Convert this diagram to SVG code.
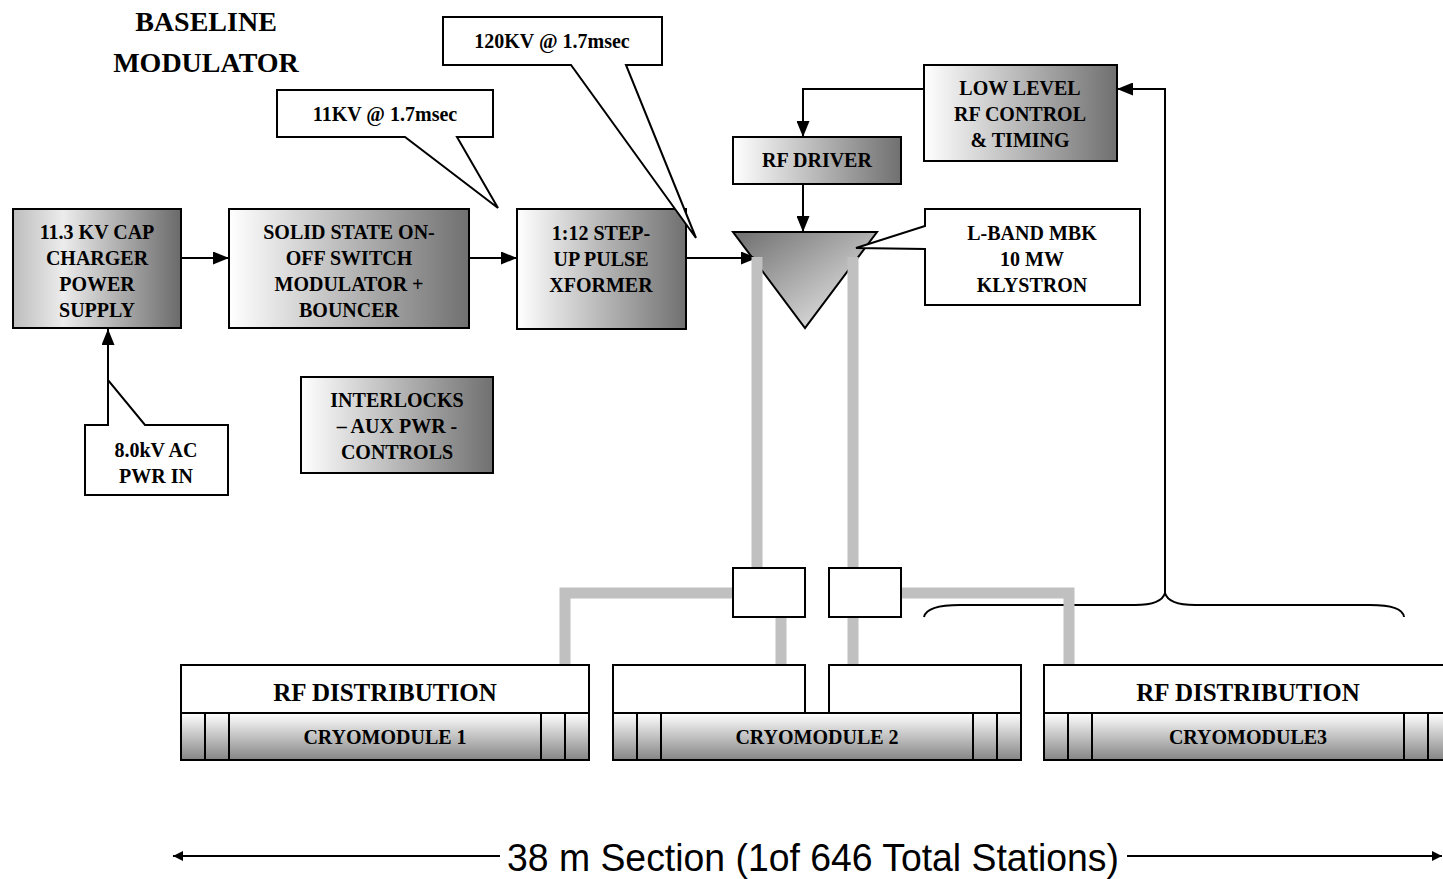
<svg xmlns="http://www.w3.org/2000/svg" width="1443" height="879" viewBox="0 0 1443 879">
<style>
.box{stroke:#000;stroke-width:2}
.t{font-family:"Liberation Serif","Times New Roman",serif;font-weight:bold;font-size:20px;fill:#000;text-anchor:middle}
.big{font-size:25px}
.title{font-size:28px}
.ln{fill:none;stroke:#000;stroke-width:2}
.pipe{fill:none;stroke:#c0c0c0;stroke-width:11}
.cap{font-family:"Liberation Sans",Arial,sans-serif;font-size:38px;fill:#000;text-anchor:middle}
</style>
<defs>
<linearGradient id="gH" x1="0" y1="0" x2="1" y2="0"><stop offset="0" stop-color="#ffffff"/><stop offset="1" stop-color="#707070"/></linearGradient>
<linearGradient id="gH1" x1="0" y1="0" x2="1" y2="0"><stop offset="0" stop-color="#bdbdbd"/><stop offset="0.3" stop-color="#ececec"/><stop offset="1" stop-color="#6a6a6a"/></linearGradient>
<linearGradient id="gV" x1="0" y1="0" x2="0" y2="1"><stop offset="0" stop-color="#ffffff"/><stop offset="1" stop-color="#858585"/></linearGradient>
<linearGradient id="gT" x1="0" y1="0" x2="1" y2="1"><stop offset="0" stop-color="#6e6e6e"/><stop offset="1" stop-color="#f4f4f4"/></linearGradient>
<marker id="ah" viewBox="0 0 16 13" refX="16" refY="6.5" markerWidth="16" markerHeight="13" markerUnits="userSpaceOnUse" orient="auto"><path d="M0,0 L16,6.5 L0,13 z" fill="#000"/></marker>
<marker id="ahs" viewBox="0 0 10 10" refX="10" refY="5" markerWidth="10" markerHeight="10" markerUnits="userSpaceOnUse" orient="auto"><path d="M0,0 L10,5 L0,10 z" fill="#000"/></marker>
</defs>
<rect width="1443" height="879" fill="#fff"/>

<g id="title">
<text class="t title" x="206" y="31">BASELINE</text>
<text class="t title" x="206" y="72">MODULATOR</text>
</g>

<g id="klystron">
<path class="box" d="M733,232 L877,232 L805,328 Z" fill="url(#gT)"/>
</g>

<g id="connectors">
<line class="ln" x1="181" y1="258" x2="229" y2="258" marker-end="url(#ah)"/>
<line class="ln" x1="469" y1="258" x2="517" y2="258" marker-end="url(#ah)"/>
<line class="ln" x1="686" y1="258" x2="757" y2="258" marker-end="url(#ah)"/>
<line class="ln" x1="108" y1="380" x2="108" y2="329" marker-end="url(#ah)"/>
<polyline class="ln" points="924,89 803,89 803,137" marker-end="url(#ah)"/>
<line class="ln" x1="803" y1="184" x2="803" y2="232" marker-end="url(#ah)"/>
<polyline class="ln" points="1165,594 1165,89 1117,89" marker-end="url(#ah)"/>
<path class="ln" d="M924,617 C926,608 940,605 960,605 L1135,605 C1155,605 1163,600 1165,593 C1167,600 1175,605 1195,605 L1370,605 C1390,605 1403,609 1404,617"/>
<path class="pipe" d="M757,257 L757,568 M853,257 L853,568 M733,593 L565,593 L565,665 M781,617 L781,665 M853,617 L853,665 M901,593 L1069,593 L1069,665"/>
<line class="ln" x1="500" y1="856" x2="173" y2="856" marker-end="url(#ahs)"/>
<line class="ln" x1="1127" y1="856" x2="1442" y2="856" marker-end="url(#ahs)"/>
</g>

<g id="splitter1"><rect class="box" x="733" y="568" width="72" height="49" fill="#fff"/></g>
<g id="splitter2"><rect class="box" x="829" y="568" width="72" height="49" fill="#fff"/></g>

<g id="capcharger">
<rect class="box" x="13" y="209" width="168" height="119" fill="url(#gH1)"/>
<text class="t" x="97" y="239">11.3 KV CAP</text>
<text class="t" x="97" y="265">CHARGER</text>
<text class="t" x="97" y="291">POWER</text>
<text class="t" x="97" y="317">SUPPLY</text>
</g>

<g id="modulator">
<rect class="box" x="229" y="209" width="240" height="119" fill="url(#gH)"/>
<text class="t" x="349" y="239">SOLID STATE ON-</text>
<text class="t" x="349" y="265">OFF SWITCH</text>
<text class="t" x="349" y="291">MODULATOR +</text>
<text class="t" x="349" y="317">BOUNCER</text>
</g>

<g id="xformer">
<rect class="box" x="517" y="209" width="169" height="120" fill="url(#gH)"/>
<text class="t" x="601" y="240">1:12 STEP-</text>
<text class="t" x="601" y="266">UP PULSE</text>
<text class="t" x="601" y="292">XFORMER</text>
</g>

<g id="rfdriver">
<rect class="box" x="733" y="137" width="168" height="47" fill="url(#gH)"/>
<text class="t" x="817" y="167">RF DRIVER</text>
</g>

<g id="llrf">
<rect class="box" x="924" y="65" width="193" height="96" fill="url(#gH)"/>
<text class="t" x="1020" y="95">LOW LEVEL</text>
<text class="t" x="1020" y="121">RF CONTROL</text>
<text class="t" x="1020" y="147">&amp; TIMING</text>
</g>

<g id="klystron-label">
<path class="box" d="M925,209 L1140,209 L1140,305 L925,305 L925,249 L856,248 L925,226 Z" fill="#fff"/>
<text class="t" x="1032" y="240">L-BAND MBK</text>
<text class="t" x="1032" y="266">10 MW</text>
<text class="t" x="1032" y="292">KLYSTRON</text>
</g>

<g id="callout-120kv">
<path class="box" d="M443,17 L662,17 L662,65 L626,65 L696,238 L571,65 L443,65 Z" fill="#fff"/>
<text class="t" x="552" y="48">120KV @ 1.7msec</text>
</g>

<g id="callout-11kv">
<path class="box" d="M277,90 L493,90 L493,137 L457,137 L498,208 L405,137 L277,137 Z" fill="#fff"/>
<text class="t" x="385" y="121">11KV @ 1.7msec</text>
</g>

<g id="acpwr">
<path class="box" d="M85,425 L108,425 L108,380 L145,425 L228,425 L228,495 L85,495 Z" fill="#fff"/>
<text class="t" x="156" y="457">8.0kV AC</text>
<text class="t" x="156" y="483">PWR IN</text>
</g>

<g id="interlocks">
<rect class="box" x="301" y="377" width="192" height="96" fill="url(#gH)"/>
<text class="t" x="397" y="407">INTERLOCKS</text>
<text class="t" x="397" y="433">– AUX PWR -</text>
<text class="t" x="397" y="459">CONTROLS</text>
</g>

<g id="cryomodule1">
<rect class="box" x="181" y="665" width="408" height="48" fill="#fff"/>
<text class="t big" x="385" y="701">RF DISTRIBUTION</text>
<rect class="box" x="181" y="713" width="408" height="47" fill="url(#gV)"/>
<path class="ln" d="M205,713 V760 M229,713 V760 M541,713 V760 M565,713 V760"/>
<text class="t" x="385" y="744">CRYOMODULE 1</text>
</g>

<g id="cryomodule2">
<rect class="box" x="613" y="665" width="192" height="48" fill="#fff"/>
<rect class="box" x="829" y="665" width="192" height="48" fill="#fff"/>
<rect class="box" x="613" y="713" width="408" height="47" fill="url(#gV)"/>
<path class="ln" d="M637,713 V760 M661,713 V760 M973,713 V760 M997,713 V760"/>
<text class="t" x="817" y="744">CRYOMODULE 2</text>
</g>

<g id="cryomodule3">
<rect class="box" x="1044" y="665" width="408" height="48" fill="#fff"/>
<text class="t big" x="1248" y="701">RF DISTRIBUTION</text>
<rect class="box" x="1044" y="713" width="408" height="47" fill="url(#gV)"/>
<path class="ln" d="M1068,713 V760 M1092,713 V760 M1404,713 V760 M1428,713 V760"/>
<text class="t" x="1248" y="744">CRYOMODULE3</text>
</g>

<g id="caption">
<text class="cap" x="813" y="871" textLength="612" lengthAdjust="spacingAndGlyphs">38 m Section (1of 646 Total Stations)</text>
</g>
</svg>
